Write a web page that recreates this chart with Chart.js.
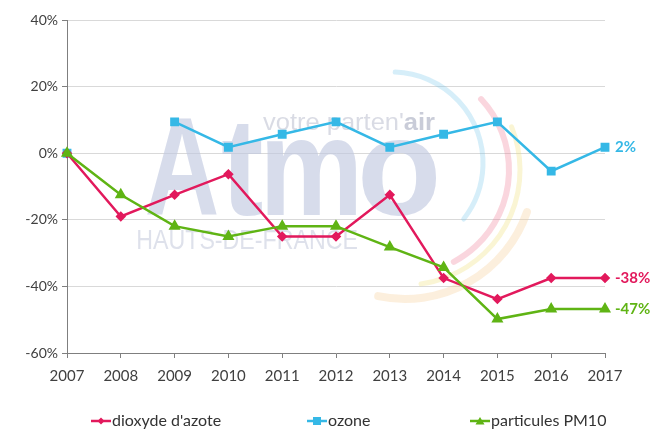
<!DOCTYPE html>
<html><head><meta charset="utf-8">
<script src="https://cdn.jsdelivr.net/npm/chart.js@4/dist/chart.umd.min.js"></script>
<style>html,body{margin:0;padding:0;background:#fff}#wrap{width:662px;height:431px}</style>
</head><body><div id="wrap"><canvas id="c" width="662" height="431"></canvas></div>
<script>
const years = ['2007','2008','2009','2010','2011','2012','2013','2014','2015','2016','2017'];
const no2 = [0,-19,-12.5,-6.3,-25,-25,-12.5,-37.5,-43.8,-37.5,-37.5];
const ozone = [0,null,9.4,1.8,5.7,9.4,1.8,5.7,9.4,-5.4,1.8];
const pm10 = [0,-12.5,-21.9,-25,-21.9,-21.9,-28.2,-34.3,-49.8,-46.8,-46.8];
const seriesNames = ["dioxyde d'azote","ozone","particules PM10"];
const endLabels = ['-38%','2%','-47%'];
const yTicks = [40,20,0,-20,-40,-60];

const PINK='#e2195c', CYAN='#35b8e6', GREEN='#5fb414';
const FONT='Lato, "Open Sans", sans-serif';

function fitText(c, txt, x0, x1, base){
  const m=c.measureText(txt);
  const vis=m.actualBoundingBoxLeft+m.actualBoundingBoxRight;
  const s=(x1-x0)/vis;
  c.save(); c.translate(x0+m.actualBoundingBoxLeft*s, base); c.scale(s,1); c.fillText(txt,0,0); c.restore();
}

const watermark = {
  id:'watermark',
  beforeDatasetsDraw(chart){
    const c = chart.ctx;
    c.save();
    const arcs = [
      {x:392,y:163,r:91,a0:-88,a1:38,w:5,col:'rgba(120,200,235,0.30)'},
      {x:405,y:170,r:104,a0:-43,a1:62,w:6,col:'rgba(240,120,145,0.30)'},
      {x:405,y:170,r:115,a0:-22,a1:82,w:5,col:'rgba(240,225,120,0.32)'},
      {x:405,y:170,r:129,a0:19,a1:102,w:8,col:'rgba(245,205,150,0.32)'}
    ];
    arcs.forEach(a=>{c.beginPath();c.lineCap='round';c.lineWidth=a.w;c.strokeStyle=a.col;
      c.arc(a.x,a.y,a.r,a.a0*Math.PI/180,a.a1*Math.PI/180);c.stroke();});
    c.fillStyle='rgba(190,198,222,0.62)';
    c.font='bold 140px "Liberation Sans", Arial, sans-serif';
    c.textBaseline='alphabetic';
    [['A',147,217],['t',222,262],['m',267,356],['o',362,437]].forEach(l=>fitText(c,l[0],l[1],l[2],215));
    c.fillStyle='rgba(185,190,205,0.55)';
    c.font='24px "Liberation Sans", sans-serif';
    const t1="votre parten'";
    const wa=c.measureText(t1).width;
    c.font='bold 24px "Liberation Sans", sans-serif';
    const wb=c.measureText('air').width;
    const sc=172/(wa+wb);
    c.save(); c.translate(263,130); c.scale(sc,1);
    c.font='24px "Liberation Sans", sans-serif';
    c.fillText(t1,0,0);
    c.font='bold 24px "Liberation Sans", sans-serif';
    c.fillStyle='rgba(165,170,190,0.6)';
    c.fillText('air',wa,0);
    c.restore();
    c.font='27px "Liberation Sans", sans-serif';
    c.fillStyle='rgba(200,205,222,0.6)';
    fitText(c,'HAUTS-DE-FRANCE',138,357,249);
    c.restore();
  }
};

const extras = {
  id:'extras',
  afterDraw(chart){
    const c = chart.ctx;
    c.save();
    c.font='bold 15px '+FONT;
    c.textBaseline='middle'; c.textAlign='left';
    chart.data.datasets.forEach((ds,i)=>{
      const meta=chart.getDatasetMeta(i);
      const p=meta.data[meta.data.length-1];
      c.fillStyle=ds.borderColor;
      c.fillText(endLabels[i],p.x+10,p.y);
    });
    const starts=[91,307,470];
    const ly=421;
    c.font='16px '+FONT;
    chart.data.datasets.forEach((ds,i)=>{
      const x=starts[i];
      c.strokeStyle=ds.borderColor;c.fillStyle=ds.borderColor;c.lineWidth=2.5;
      c.beginPath();c.moveTo(x,ly);c.lineTo(x+20,ly);c.stroke();
      const mx=x+10;
      c.beginPath();
      if(ds.pointStyle==='rectRot'){c.moveTo(mx,ly-3.5);c.lineTo(mx+3.5,ly);c.lineTo(mx,ly+3.5);c.lineTo(mx-3.5,ly);}
      else if(ds.pointStyle==='rect'){c.rect(mx-4,ly-4,8,8);}
      else {c.moveTo(mx,ly-4);c.lineTo(mx+4.5,ly+3.5);c.lineTo(mx-4.5,ly+3.5);}
      c.closePath();c.fill();
      c.fillStyle='#333';c.textAlign='left';c.textBaseline='middle';
      c.fillText(ds.label,x+21,ly);
    });
    c.restore();
  }
};

new Chart(document.getElementById('c'),{
  type:'line',
  data:{labels:years,datasets:[
    {label:seriesNames[0],data:no2,borderColor:PINK,backgroundColor:PINK,pointStyle:'rectRot',pointRadius:3.5,borderWidth:2.5,order:1},
    {label:seriesNames[1],data:ozone,borderColor:CYAN,backgroundColor:CYAN,pointStyle:'rect',pointRadius:4.5,borderWidth:2.5,order:2},
    {label:seriesNames[2],data:pm10,borderColor:GREEN,backgroundColor:GREEN,pointStyle:'triangle',pointRadius:4.5,borderWidth:2.5,order:0}
  ]},
  options:{
    responsive:false,animation:false,
    spanGaps:false,
    layout:{padding:{left:0,right:57,top:20,bottom:40}},
    plugins:{legend:{display:false},tooltip:{enabled:false}},
    scales:{
      x:{offset:false,
        grid:{display:true,drawOnChartArea:false,drawTicks:true,tickLength:5,color:'#7f7f7f',lineWidth:1},
        border:{display:true,color:'#7f7f7f',width:1},
        ticks:{color:'#404040',font:{family:FONT,size:15},padding:9,maxRotation:0,autoSkip:false},
        afterFit(s){s.height=38;}
      },
      y:{min:-60,max:40,
        afterBuildTicks(s){s.ticks=yTicks.map(v=>({value:v}));},
        grid:{color:'#d9d9d9',lineWidth:1,drawTicks:true,tickLength:5,tickColor:'#7f7f7f'},
        border:{display:true,color:'#7f7f7f',width:1},
        ticks:{color:'#404040',font:{family:FONT,size:14},padding:4,callback:v=>v+'%'},
        afterFit(s){s.width=67;}
      }
    }
  },
  plugins:[watermark,extras]
});
</script></body></html>
